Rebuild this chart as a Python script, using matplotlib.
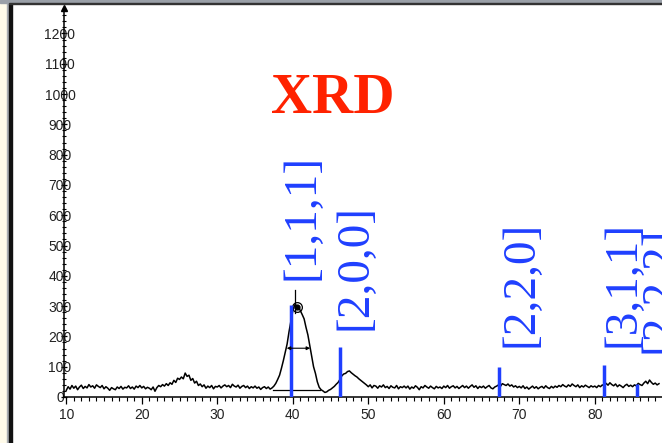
import numpy as np
import matplotlib
matplotlib.use("Agg")
from matplotlib import pyplot as plt
from matplotlib.patches import Rectangle

# scan from 10 to 88.5 deg, step 0.25 deg (counts)
two_theta = np.arange(10, 88.5 + 0.125, 0.25)
counts = [
    22, 34, 26, 38, 29, 36, 24, 33, 39, 28, 35, 30, 41, 33, 37, 29, 40, 35, 31, 38,          # 10
    27, 34, 29, 22, 31, 27, 24, 33, 28, 35, 26, 32, 30, 37, 28, 33, 26, 36, 31, 38,          # 15
    30, 35, 27, 32, 29, 24, 33, 19, 31, 38, 34, 41, 36, 44, 38, 47, 42, 55, 48, 62,          # 20
    58, 66, 60, 79, 68, 72, 55, 61, 46, 52, 38, 43, 34, 40, 29, 36, 31, 38, 27, 35,          # 25
    33, 38, 30, 36, 40, 34, 38, 31, 42, 36, 33, 39, 29, 35, 38, 31, 36, 28, 34, 30,          # 30
    36, 29, 33, 25, 31, 34, 28, 33, 26, 30, 36, 45, 58, 72, 95, 120, 148, 175, 215, 250,     # 35
    285, 304, 302, 297, 285, 272, 258, 230, 205, 170, 133, 100, 78, 50, 32, 24, 20, 15, 17, 22,  # 40
    25, 30, 35, 42, 48, 58, 70, 76, 78, 84, 86, 80, 75, 70, 66, 60, 55, 50, 45, 40,          # 45
    34, 40, 30, 38, 36, 29, 37, 33, 40, 31, 35, 28, 37, 32, 30, 38, 27, 34, 31, 36,          # 50
    30, 36, 26, 33, 29, 37, 32, 24, 34, 30, 38, 33, 29, 36, 31, 27, 35, 30, 33, 28,          # 55
    36, 31, 38, 29, 34, 37, 30, 35, 28, 33, 38, 31, 36, 29, 35, 40, 32, 37, 28, 35,          # 60
    31, 36, 29, 34, 38, 30, 27, 33, 36, 40, 35, 44, 41, 38, 43, 36, 40, 33, 37, 31,          # 65
    35, 30, 37, 28, 33, 26, 31, 36, 29, 34, 27, 32, 35, 29, 37, 31, 28, 35, 30, 36,          # 70
    32, 38, 34, 41, 36, 33, 40, 35, 43, 38, 34, 40, 31, 37, 33, 39, 35, 31, 37, 33,          # 75
    36, 31, 38, 34, 40, 36, 45, 39, 47, 41, 37, 43, 34, 40, 36, 31, 38, 42, 35, 39,          # 80
    34, 40, 37, 45, 41, 38, 46, 52, 44, 56, 48, 42, 46, 40, 44,                              # 85
]

# reference reflections
hkl = ['[1,1,1]', '[2,0,0]', '[2,2,0]', '[3,1,1]', '[2,2,2]']
ref_pos = [39.7, 46.2, 67.35, 81.2, 85.6]
ref_int = [304, 165, 100, 106, 42]
lab_x = [41.3, 48.3, 70.3, 83.8, 88.7]
lab_y = [386, 221, 165, 165, 145]

# peak fit marks for (111)
peak_x, peak_y = 40.6, 296
fwhm_lo, fwhm_hi, fwhm_y = 39.2, 42.3, 161
base_lo, base_hi, base_y = 37.4, 43.6, 23

blue = '#1f3fff'
W, H = 662, 443

fig = plt.figure(figsize=(W / 100, H / 100), dpi=100)
fig.patch.set_facecolor('white')

# window frame bits of the screenshot
fig.add_artist(Rectangle((0, 0), 7.3 / W, 1, transform=fig.transFigure, color='#fffbea', zorder=0))
fig.add_artist(Rectangle((7.3 / W, 0), 1.8 / W, 1, transform=fig.transFigure, color='#a9adb2', zorder=0))
fig.add_artist(Rectangle((9.1 / W, 0), 2.6 / W, 1 - 2.7 / H, transform=fig.transFigure, color='#111111', zorder=0))
fig.add_artist(Rectangle((0, 1 - 2.7 / H), 1, 2.7 / H, transform=fig.transFigure, color='#9aa0a8', zorder=0))
fig.add_artist(Rectangle((9.1 / W, 1 - 4 / H), 1, 1.3 / H, transform=fig.transFigure, color='#333333', zorder=0))

ax = fig.add_axes([64 / W, (H - 397) / H, (W - 64) / W, (397 - 8) / H])
ax.set_facecolor('none')
ax.set_xlim(9.7, 88.9)
ax.set_ylim(0, 1284)

for s in ['top', 'right']:
    ax.spines[s].set_visible(False)
ax.spines['left'].set_linewidth(1.1)
ax.spines['bottom'].set_linewidth(1.1)

ax.set_xticks(np.arange(10, 90, 10))
ax.set_xticks(np.arange(10, 89, 1), minor=True)
ax.set_yticks(np.arange(0, 1300, 100))
ax.set_yticks(np.arange(0, 1284, 20), minor=True)

ax.tick_params(axis='x', which='major', direction='out', length=5, width=0.9, pad=3,
               labelsize=10, labelcolor='#222222')
ax.tick_params(axis='x', which='minor', direction='out', length=3, width=0.8)
ax.tick_params(axis='y', which='major', direction='inout', length=5, width=0.9, pad=0.4,
               labelsize=10, labelcolor='#222222')
ax.tick_params(axis='y', which='minor', direction='inout', length=3, width=0.8)
for lab in ax.get_yticklabels():
    lab.set_horizontalalignment('center')
    lab.set_family('Liberation Sans')
for lab in ax.get_xticklabels():
    lab.set_family('Liberation Sans')

# arrow head on top of y axis
ax.plot([0], [1], marker='^', color='k', ms=4, transform=ax.transAxes, clip_on=False)

ax.plot(two_theta, counts, color='k', lw=1.1)

ax.vlines(ref_pos, 0, ref_int, colors=blue, lw=2.5, zorder=3)
for t, x, y in zip(hkl, lab_x, lab_y):
    ax.text(x, y, t, rotation=90, ha='center', va='bottom', fontsize=34,
            family='Liberation Serif', color=blue, clip_on=False)

# peak marks
ax.plot([40.24, 40.24], [277, 353], color='k', lw=0.9)
ax.plot(peak_x, peak_y, 'o', mfc='none', mec='k', ms=7, mew=0.9)
ax.plot(peak_x - 0.1, peak_y, 'o', color='k', ms=3.5)
ax.annotate('', xy=(fwhm_lo, fwhm_y), xytext=(fwhm_hi, fwhm_y),
            arrowprops=dict(arrowstyle='<|-|>', lw=0.8, color='k', mutation_scale=5,
                            shrinkA=0, shrinkB=0))
ax.plot([base_lo, base_hi], [base_y, base_y], color='k', lw=0.9)

fig.text(333 / W, 1 - 99 / H, 'XRD', color='#ff2200', fontsize=41, weight='bold',
         family='Liberation Serif', ha='center', va='center')

fig.savefig('out.png', dpi=100)
